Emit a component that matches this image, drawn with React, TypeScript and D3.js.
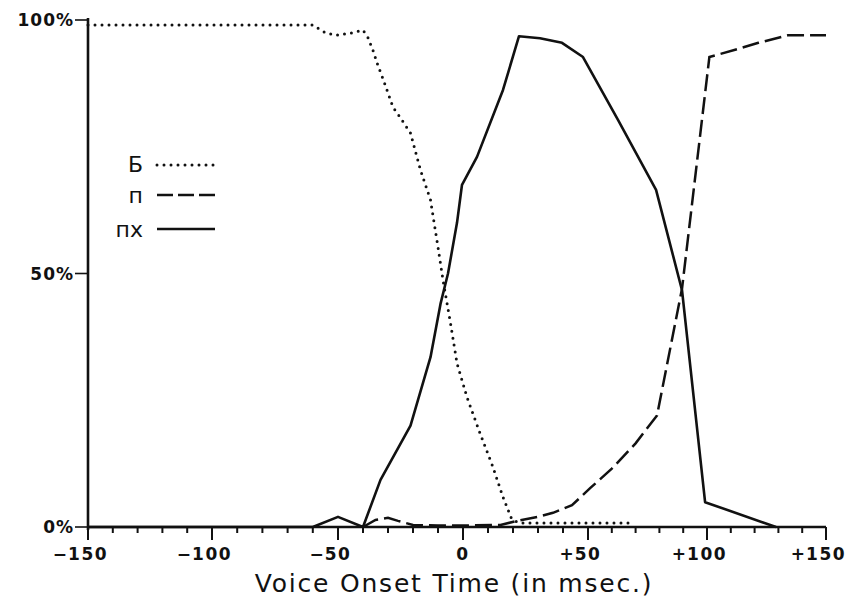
import React from "react";
import * as d3 from "d3";

// ---- data ----
const xTickValues = [-150, -100, -50, 0, 50, 100, 150];
const xTickLabels = ["\u2212150", "\u2212100", "\u221250", "0", "+50", "+100", "+150"];
const minorTicks = d3.range(-150, 151, 10);
const yTickValues = [0, 50, 100];
const yTickLabels = ["0%", "50%", "100%"];

const legendLabels = ["Б", "п", "пх"];

// Б (dotted)
const seriesB: [number, number][] = [
  [-150, 99], [-60, 99], [-55, 97.5], [-51, 97], [-45, 97.4], [-40, 98],
  [-38, 96.5], [-36, 94], [-34, 91], [-32, 88.4], [-30, 85.6], [-28, 82.8],
  [-25, 80.7], [-21, 77.7], [-17, 70.4], [-13, 64.5], [-10, 55.2], [-8, 48.7],
  [-5, 40.2], [-2.4, 32.3], [1.6, 25.6], [6.8, 18.5], [12, 11.8], [16, 5.9],
  [19.6, 1.4], [23, 0.8], [67, 0.8],
];

// п (dashed)
const seriesP: [number, number][] = [
  [-40, 0], [-35, 1.4], [-30, 1.8], [-26, 1.2], [-20, 0.4], [-10, 0.3],
  [0, 0.3], [15, 0.4], [21.6, 1.2], [30, 2], [36, 2.8], [43.6, 4.3],
  [51, 7.7], [60, 11.5], [70, 16.5], [79, 22], [89.5, 47], [101, 92.7],
  [113, 94.3], [121.6, 95.5], [134, 97], [150, 97],
];

// пх (solid)
const seriesPh: [number, number][] = [
  [-150, 0], [-60, 0], [-50, 2], [-40, 0], [-33, 9.3], [-21, 20],
  [-13, 33.5], [-9, 44], [-6, 50], [-2.4, 60], [-0.4, 67.5], [5.6, 73],
  [16, 86.2], [22.4, 96.8], [30.8, 96.4], [39.6, 95.5], [48, 92.7],
  [62.6, 80.3], [78.6, 66.5], [89.5, 46.7], [99.2, 4.9], [129, 0],
];

const W = 856;
const H = 601;

export default function App() {
  const x = d3
    .scaleLinear()
    .domain(xTickValues)
    .range([88, 212, 338, 463, 588, 707, 826]);
  const y = d3.scaleLinear().domain([0, 100]).range([527, 20]);

  const line = d3
    .line<[number, number]>()
    .x((d) => x(d[0]))
    .y((d) => y(d[1]));

  const labelFont = "'DejaVu Sans', sans-serif";
  const digitW = 13.3;

  const legendY = [165, 195, 229];
  const legendBase = [172, 203, 237];
  const legendStyles = [
    { dash: "0 7", width: 3, cap: "round" as const },
    { dash: "16 5", width: 2.5, cap: "butt" as const },
    { dash: "none", width: 2.6, cap: "butt" as const },
  ];

  return (
    <svg
      width={W}
      height={H}
      style={{ position: "absolute", left: 0, top: 0, background: "#fff" }}
    >
      <rect x={0} y={0} width={W} height={H} fill="#fff" />

      {/* series */}
      <path
        d={line(seriesB) || ""}
        fill="none"
        stroke="#111"
        strokeWidth={3}
        strokeDasharray="0 7"
        strokeLinecap="round"
      />
      <path
        d={line(seriesP) || ""}
        fill="none"
        stroke="#111"
        strokeWidth={2.5}
        strokeDasharray="17 6"
      />
      <path
        d={line(seriesPh) || ""}
        fill="none"
        stroke="#111"
        strokeWidth={2.6}
        strokeLinejoin="round"
      />

      {/* axes */}
      <line x1={x(-150)} x2={x(150)} y1={y(0)} y2={y(0)} stroke="#111" strokeWidth={2.6} />
      <line x1={x(-150)} x2={x(-150)} y1={y(0) + 3} y2={y(100) - 2} stroke="#111" strokeWidth={2.6} />
      {minorTicks.map((t) => {
        const major = t % 50 === 0;
        return (
          <line
            key={"t" + t}
            x1={x(t)}
            x2={x(t)}
            y1={y(0)}
            y2={y(0) + (major ? 13 : 6)}
            stroke="#111"
            strokeWidth={2}
          />
        );
      })}
      {yTickValues.map((v, i) => (
        <g key={"y" + v}>
          <line x1={x(-150) - 13} x2={x(-150)} y1={y(v)} y2={y(v)} stroke="#111" strokeWidth={1.6} />
          <text
            x={74}
            y={y(v)}
            textAnchor="end"
            dominantBaseline="central"
            fontFamily={labelFont}
            fontWeight="bold"
            fontSize={17}
            letterSpacing={1}
            fill="#111"
          >
            {yTickLabels[i]}
          </text>
        </g>
      ))}
      {xTickValues.map((v, i) => {
        const lab = xTickLabels[i];
        const hasSign = lab[0] === "+" || lab[0] === "\u2212";
        const digits = hasSign ? lab.slice(1) : lab;
        const sign = hasSign ? lab[0] : "";
        const half = (digits.length * digitW) / 2;
        return (
          <g key={"xl" + v} fontFamily={labelFont} fontWeight="bold" fontSize={17} fill="#111">
            <text x={x(v) - half} y={560} textAnchor="start" letterSpacing={1.5}>
              {digits}
            </text>
            {sign && (
              <text x={x(v) - half - 1} y={560} textAnchor="end">
                {sign}
              </text>
            )}
          </g>
        );
      })}

      {/* axis title */}
      <text
        x={454}
        y={592}
        textAnchor="middle"
        fontFamily={labelFont}
        fontSize={25}
        letterSpacing={1.8}
        fill="#111"
      >
        Voice Onset Time (in msec.)
      </text>

      {/* legend */}
      {legendLabels.map((lab, i) => (
        <g key={"lg" + i}>
          <text
            x={143}
            y={legendBase[i]}
            textAnchor="end"
            fontFamily={labelFont}
            fontSize={22}
            fill="#111"
          >
            {lab}
          </text>
          <line
            x1={157}
            x2={215}
            y1={legendY[i]}
            y2={legendY[i]}
            stroke="#111"
            strokeWidth={legendStyles[i].width}
            strokeDasharray={legendStyles[i].dash}
            strokeLinecap={legendStyles[i].cap}
          />
        </g>
      ))}
    </svg>
  );
}
